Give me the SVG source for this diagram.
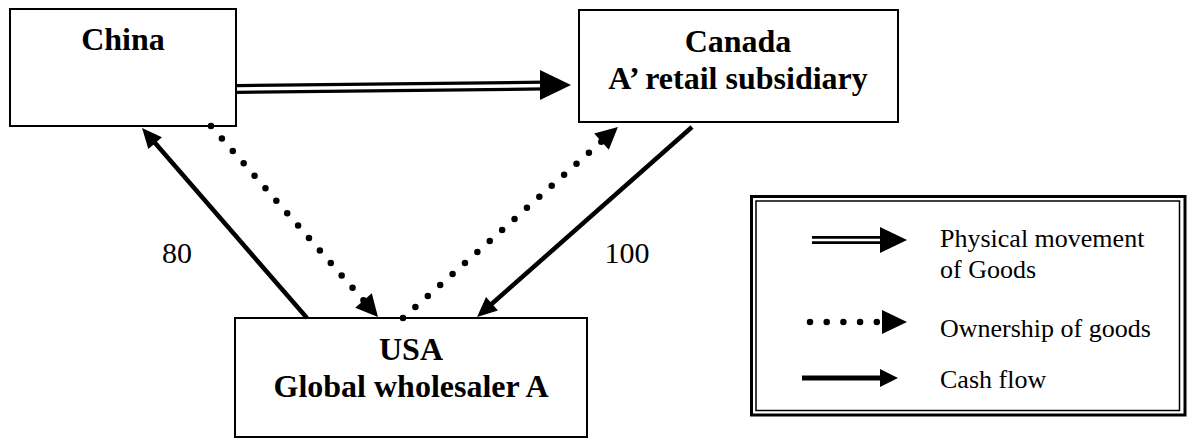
<svg xmlns="http://www.w3.org/2000/svg" width="1192" height="439" viewBox="0 0 1192 439">
<style>
.box{fill:#fff;stroke:#000;stroke-width:2}
.bold{font-family:"Liberation Serif","Times New Roman",serif;font-weight:bold;font-size:32px;fill:#000;text-anchor:middle}
.num{font-family:"Liberation Serif","Times New Roman",serif;font-size:30px;fill:#000;text-anchor:middle}
.leg{font-family:"Liberation Serif","Times New Roman",serif;font-size:26px;fill:#000}
.cash{fill:none;stroke:#000;stroke-width:4.5}
.dots{fill:none;stroke:#000;stroke-width:6.5;stroke-linecap:round}
.dblo{fill:none;stroke:#000;stroke-width:10}
.dbli{fill:none;stroke:#fff;stroke-width:3.5}
.head{fill:#000;stroke:none}
</style>
<defs>
<marker id="cashHead" markerUnits="userSpaceOnUse" viewBox="0 0 20 18" markerWidth="20" markerHeight="18" refX="8" refY="9" orient="auto" overflow="visible">
<path d="M0,0 L20,9 L0,18 z" fill="#000"/>
</marker>
<marker id="dotHead" markerUnits="userSpaceOnUse" viewBox="0 0 22 22" markerWidth="22" markerHeight="22" refX="0" refY="11" orient="auto" overflow="visible">
<path d="M0,0 L22,11 L0,22 z" fill="#000"/>
</marker>
</defs>

<g id="china">
<rect class="box" x="10" y="9" width="226" height="117"/>
<text class="bold" x="123" y="50">China</text>
</g>

<g id="canada">
<rect class="box" x="579" y="10" width="319" height="112"/>
<text class="bold" x="738" y="52">Canada</text>
<text class="bold" x="738" y="89">A’ retail subsidiary</text>
</g>

<g id="usa">
<rect class="box" x="235" y="318" width="352" height="119"/>
<text class="bold" x="411" y="360">USA</text>
<text class="bold" x="411" y="397">Global wholesaler A</text>
</g>

<g id="connectors">
<path class="dblo" d="M237,89 L545,85.5"/>
<path class="dbli" d="M237,89 L545,85.5"/>
<path class="head" d="M540,70 L571,85 L540,100 z"/>
<path class="cash" d="M307,318 L149.9,137.1" marker-end="url(#cashHead)"/>
<path class="cash" d="M692,127 L486,309" marker-end="url(#cashHead)"/>
<path class="dots" stroke-dasharray="0 16.54" d="M211,126 L363.5,300.4" marker-end="url(#dotHead)"/>
<path class="dots" stroke-dasharray="0 16.58" d="M403,318 L601.5,141.6" marker-end="url(#dotHead)"/>
<text class="num" x="177" y="263">80</text>
<text class="num" x="627" y="263">100</text>
</g>

<g id="legend">
<rect x="751.5" y="196.5" width="433.5" height="218.5" fill="#fff" stroke="#000" stroke-width="3"/>
<rect x="756" y="201" width="423.5" height="209.5" fill="none" stroke="#000" stroke-width="1.5"/>
<path d="M812,240 L884,240" fill="none" stroke="#000" stroke-width="8"/>
<path d="M812,240 L884,240" fill="none" stroke="#fff" stroke-width="2.5"/>
<path class="head" d="M880,227 L907,240 L880,253 z"/>
<text class="leg" x="940" y="247">Physical movement</text>
<text class="leg" x="940" y="278">of Goods</text>
<path d="M810,322 L877.5,322" fill="none" stroke="#000" stroke-width="6.5" stroke-linecap="round" stroke-dasharray="0 16.7"/>
<path class="head" d="M882,310 L907,322 L882,334 z"/>
<text class="leg" x="940" y="337">Ownership of goods</text>
<path d="M802,378 L882,378" fill="none" stroke="#000" stroke-width="5"/>
<path class="head" d="M880,369 L898,378 L880,387 z"/>
<text class="leg" x="940" y="388">Cash flow</text>
</g>
</svg>
